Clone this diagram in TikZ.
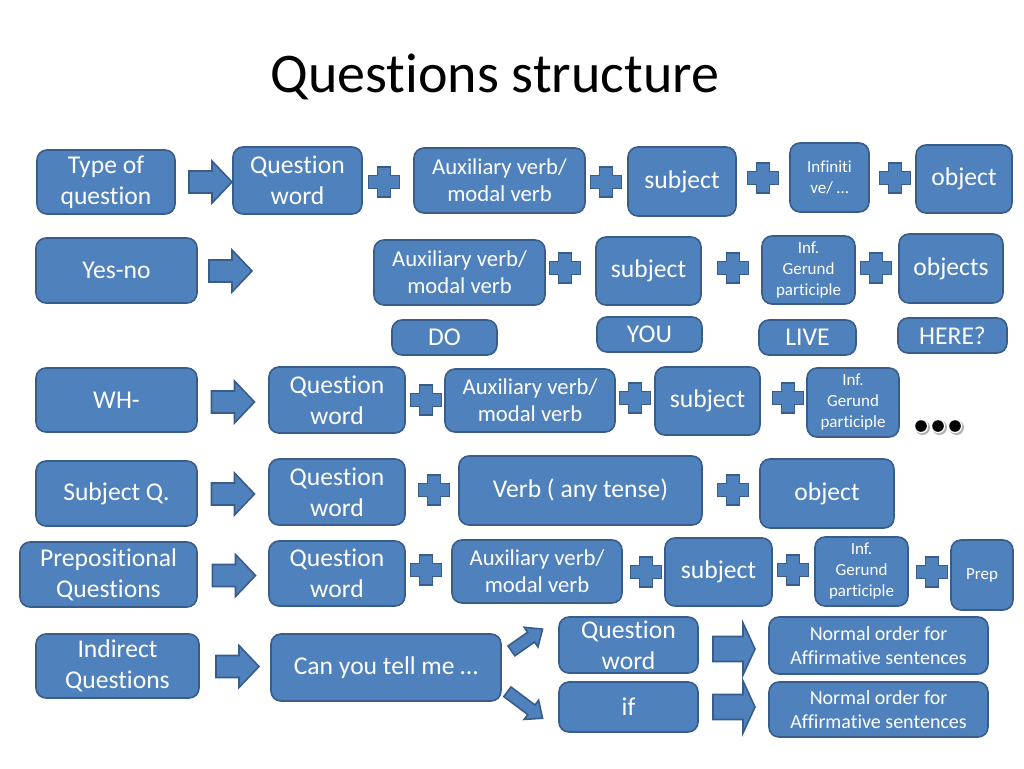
\documentclass[tikz,border=0pt]{standalone}
\usepackage{fontspec}
\setmainfont[Ligatures=NoCommon,RawFeature=-liga]{Carlito}
\definecolor{bfill}{HTML}{4F81BD}
\definecolor{bline}{HTML}{385D8A}
\newcommand\fA{\fontsize{25.6}{31}\selectfont}
\newcommand\fB{\fontsize{22.7}{27}\selectfont}
\newcommand\fC{\fontsize{17}{21}\selectfont}
\newcommand\fD{\fontsize{20}{24}\selectfont}
\newcommand\fT{\fontsize{56}{66}\selectfont}
% box: name, cx, cy, w, h, font, text
\newcommand\bx[7]{\node[box,font=#6,minimum width=#4pt,minimum height=#5pt] (#1) at (#2,#3) {\vspace*{4pt}#7};}
% block arrow: cx, cy, angle, length, head length, head width, shaft width
\newcommand\barr[7]{%
  \begin{scope}[shift={(#1,#2)},rotate=#3]
    \draw[shp] (-#4/2,-#7/2) -- (#4/2-#5,-#7/2) -- (#4/2-#5,-#6/2) -- (#4/2,0)
      -- (#4/2-#5,#6/2) -- (#4/2-#5,#7/2) -- (-#4/2,#7/2) -- cycle;
  \end{scope}}
% plus sign: cx, cy
\newcommand\plusx[2]{%
  \begin{scope}[shift={(#1,#2)}]
    \draw[shp] (-6.5,-15) -- (6.5,-15) -- (6.5,-6.5) -- (15.5,-6.5) -- (15.5,6.5)
      -- (6.5,6.5) -- (6.5,15) -- (-6.5,15) -- (-6.5,6.5) -- (-15.5,6.5)
      -- (-15.5,-6.5) -- (-6.5,-6.5) -- cycle;
  \end{scope}}
\newcommand\dotx[2]{%
  \fill[black!30] (#1+1.5,#2+1.5) circle (7.5pt);
  \fill[white] (#1,#2) circle (7.2pt);
  \fill[black] (#1,#2) circle (5.8pt);}
\begin{document}
\begin{tikzpicture}[x=1pt,y=-1pt,
  box/.style={draw=bline,fill=bfill,line width=1.6pt,rounded corners=10pt,
    text=white,align=center,inner sep=1pt},
  shp/.style={draw=bline,fill=bfill,line width=1.6pt,line join=miter}]
\useasboundingbox (0,0) rectangle (1024,768);
\fill[white] (0,0) rectangle (1024,768);

\node[font=\fT,anchor=base] (title) at (495,92) {Questions structure};

% Row 1
\bx{q1type}{106}{182}{138}{64}{\fA}{Type of\\question}
\barr{210.5}{182}{0}{43}{20}{42}{22}
\bx{q1qw}{297.5}{180.5}{129}{67}{\fA}{Question\\word}
\plusx{384}{182}
\bx{q1aux}{499.5}{180.5}{171}{65}{\fB}{Auxiliary verb/\\modal verb}
\plusx{606}{182}
\bx{q1subj}{682}{181.5}{108}{69}{\fA}{subject}
\plusx{763}{178}
\bx{q1inf}{829.5}{177.5}{79}{69}{\fC}{Infiniti\\ve/ …}
\plusx{895}{178}
\bx{q1obj}{964}{179}{96}{68}{\fA}{object}

% Row 2
\bx{yesno}{116.5}{270.5}{161}{65}{\fA}{Yes-no}
\barr{230.5}{271}{0}{43}{20}{42}{22}
\bx{r2aux}{459.5}{272.5}{171}{65}{\fB}{Auxiliary verb/\\modal verb}
\plusx{565}{268}
\bx{r2subj}{648.5}{271}{105}{68}{\fA}{subject}
\plusx{733}{268}
\bx{r2inf}{808.5}{270}{93}{68}{\fC}{Inf.\\Gerund\\participle}
\plusx{876}{268}
\bx{r2obj}{951}{268.5}{104}{69}{\fA}{objects}
\bx{ex1}{444.5}{337.5}{105}{35}{\fA}{DO}
\bx{ex2}{649.5}{334.5}{105}{35}{\fA}{YOU}
\bx{ex3}{807.5}{337.5}{97}{35}{\fA}{LIVE}
\bx{ex4}{952.5}{335.5}{109}{35}{\fA}{HERE?}

% Row 3
\bx{wh}{116.5}{400}{161}{64}{\fA}{WH-}
\barr{233}{402}{0}{43}{20}{42}{22}
\bx{r3qw}{337}{400}{136}{66}{\fA}{Question\\word}
\plusx{426}{400}
\bx{r3aux}{530}{400.5}{170}{63}{\fB}{Auxiliary verb/\\modal verb}
\plusx{635}{398}
\bx{r3subj}{707.5}{401}{105}{68}{\fA}{subject}
\plusx{788}{398}
\bx{r3inf}{853}{402.5}{92}{69}{\fC}{Inf.\\Gerund\\participle}
\dotx{921}{426}
\dotx{938}{426}
\dotx{955}{426}

% Row 4
\bx{subjq}{116.5}{493.5}{161}{65}{\fA}{Subject Q.}
\barr{233}{494}{0}{43}{20}{42}{22}
\bx{r4qw}{337}{492}{136}{66}{\fA}{Question\\word}
\plusx{434}{490}
\bx{r4verb}{580.5}{490.5}{243}{69}{\fA}{Verb ( any tense)}
\plusx{733}{490}
\bx{r4obj}{827}{493.5}{134}{69}{\fA}{object}

% Row 5
\bx{prepq}{108.5}{574.5}{177}{65}{\fA}{Prepositional\\Questions}
\barr{234}{575.5}{0}{43}{20}{42}{22}
\bx{r5qw}{337}{573.5}{136}{65}{\fA}{Question\\word}
\plusx{426}{570}
\bx{r5aux}{537}{571.5}{170}{63}{\fB}{Auxiliary verb/\\modal verb}
\plusx{646}{572}
\bx{r5subj}{718.5}{572}{107}{68}{\fA}{subject}
\plusx{793}{570}
\bx{r5inf}{861.5}{571.5}{93}{69}{\fC}{Inf.\\Gerund\\participle}
\plusx{932}{572}
\bx{r5prep}{982}{575}{62}{70}{\fC}{Prep}

% Row 6
\bx{indq}{117.5}{666}{163}{64}{\fA}{Indirect\\Questions}
\barr{237.5}{666.5}{0}{43}{20}{42}{22}
\bx{canyou}{386}{667.5}{230}{67}{\fA}{Can you tell me …}
\barr{527}{640}{35}{38}{14}{24}{12}
\barr{525}{705}{-37}{44}{14}{24}{12}
\bx{r6qw}{628.5}{645}{139}{56}{\fA}{Question\\word}
\bx{r6if}{628.5}{707}{139}{50}{\fA}{if}
\barr{734}{649}{0}{42}{12}{52}{25}
\barr{734}{707}{0}{42}{12}{52}{25}
\bx{r6n1}{878.5}{645.5}{219}{57}{\fD}{Normal order for\\Affirmative sentences}
\bx{r6n2}{878.5}{709.5}{219}{55}{\fD}{Normal order for\\Affirmative sentences}
\end{tikzpicture}
\end{document}
